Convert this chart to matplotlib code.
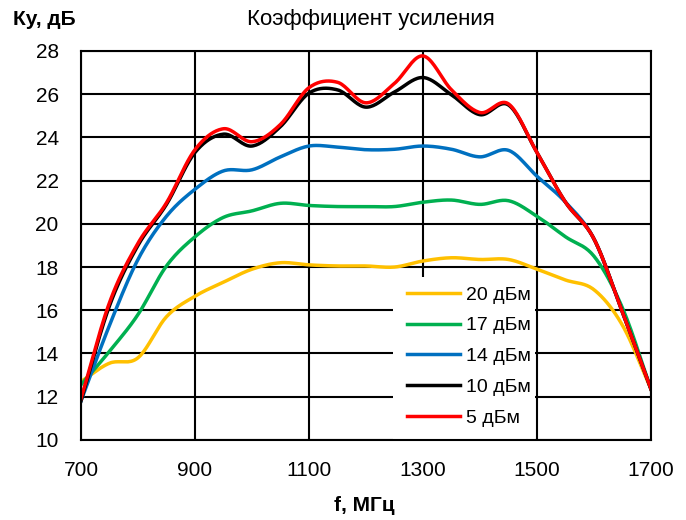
import matplotlib.pyplot as plt
import numpy as np
from matplotlib.patches import Rectangle

plt.rcParams["font.family"] = ["Liberation Sans", "DejaVu Sans"]

# frequency, MHz
freq = [700, 750, 800, 850, 900, 950, 1000, 1050, 1100, 1150, 1200, 1250,
        1300, 1350, 1400, 1450, 1500, 1550, 1600, 1650, 1700]

# gain, dB, per input power
gain_20 = [12.7, 13.55, 13.8, 15.7, 16.65, 17.3, 17.9, 18.2, 18.1, 18.05, 18.05, 18.0,
           18.28, 18.43, 18.35, 18.35, 17.9, 17.4, 16.95, 15.3, 12.35]
gain_17 = [12.55, 14.1, 15.8, 18.05, 19.4, 20.3, 20.6, 20.95, 20.85, 20.8, 20.8, 20.8,
           21.0, 21.1, 20.9, 21.07, 20.35, 19.4, 18.5, 16.1, 12.35]
gain_14 = [11.8, 15.3, 18.35, 20.35, 21.6, 22.45, 22.5, 23.1, 23.6, 23.55, 23.43, 23.45,
           23.6, 23.45, 23.1, 23.4, 22.2, 21.0, 19.3, 15.9, 12.35]
gain_10 = [11.8, 16.2, 19.0, 20.9, 23.3, 24.15, 23.6, 24.5, 26.05, 26.2, 25.4, 26.1,
           26.77, 25.97, 25.05, 25.5, 23.3, 21.0, 19.3, 15.9, 12.35]
gain_5 = [11.9, 16.35, 19.1, 20.97, 23.43, 24.4, 23.8, 24.6, 26.3, 26.55, 25.6, 26.5,
          27.77, 26.2, 25.15, 25.55, 23.3, 21.0, 19.3, 15.9, 12.35]

labels = ["20 дБм", "17 дБм", "14 дБм", "10 дБм", "5 дБм"]
colors = ["#FFC000", "#00B050", "#0070C0", "#000000", "#FF0000"]


def smooth(x, y, n=20):
    """Catmull-Rom smoothing, similar to a spreadsheet smoothed line."""
    x = np.asarray(x, float)
    y = np.asarray(y, float)
    px = np.concatenate([[2 * x[0] - x[1]], x, [2 * x[-1] - x[-2]]])
    py = np.concatenate([[2 * y[0] - y[1]], y, [2 * y[-1] - y[-2]]])
    xs, ys = [], []
    t = np.linspace(0, 1, n, endpoint=False)
    for i in range(1, len(px) - 2):
        for p, out in ((px, xs), (py, ys)):
            p0, p1, p2, p3 = p[i - 1], p[i], p[i + 1], p[i + 2]
            out.extend(0.5 * (2 * p1 + (-p0 + p2) * t
                              + (2 * p0 - 5 * p1 + 4 * p2 - p3) * t ** 2
                              + (-p0 + 3 * p1 - 3 * p2 + p3) * t ** 3))
    xs.append(x[-1])
    ys.append(y[-1])
    return np.array(xs), np.array(ys)


fig = plt.figure(figsize=(6.86, 5.2), dpi=100)
ax = fig.add_axes([0.118, 0.154, 0.831, 0.748])

for g, lab, c in zip([gain_20, gain_17, gain_14, gain_10, gain_5], labels, colors):
    sx, sy = smooth(freq, g)
    ax.plot(sx, sy, color=c, lw=2.5, label=lab, zorder=3)

ax.set_xlim(700, 1700)
ax.set_ylim(10, 28)
ax.set_xticks(range(700, 1701, 200))
ax.set_yticks(range(10, 29, 2))
ax.grid(True, color="black", lw=1.5)
ax.tick_params(length=0, labelsize=15)
ax.tick_params(axis="y", pad=16)
ax.tick_params(axis="x", pad=15)
for s in ax.spines.values():
    s.set_linewidth(1.5)
    s.set_zorder(4)

# white legend area covering the grid
ax.add_patch(Rectangle((0.547, 0.0), 0.249, 0.419, transform=ax.transAxes,
                       facecolor="white", edgecolor="none", zorder=2))
leg = ax.legend(loc="upper left", bbox_to_anchor=(0.572, 0.396), fontsize=14,
                frameon=False, borderpad=0, borderaxespad=0, handlelength=2.73,
                handletextpad=0.3, labelspacing=0.68)
leg.set_zorder(5)

fig.text(0.541, 0.962, "Коэффициент усиления", ha="center", va="center", fontsize=16)
fig.text(0.064, 0.962, "Ку, дБ", ha="center", va="center", fontsize=15, fontweight="bold")
fig.text(0.531, 0.027, "f, МГц", ha="center", va="center", fontsize=15, fontweight="bold")

fig.savefig("out.png", dpi=100)
